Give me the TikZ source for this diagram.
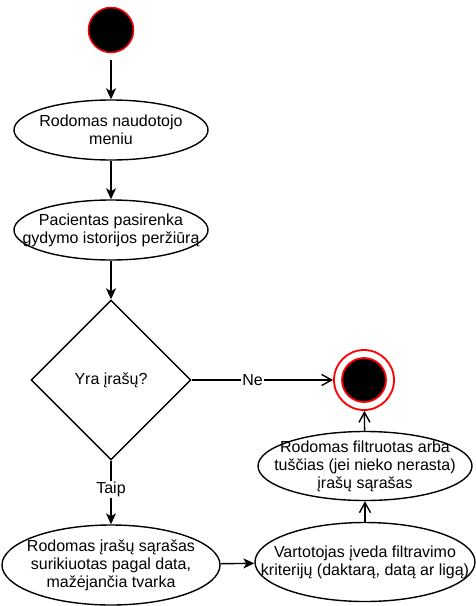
\documentclass[tikz,border=0pt]{standalone}
\usepackage{fontspec}
\setmainfont{Liberation Sans}
\usepackage{tikz}
\usetikzlibrary{arrows.meta, shapes.geometric}
\definecolor{statered}{RGB}{255,0,0}

\begin{document}
\begin{tikzpicture}[
  x=1pt, y=-1pt,
  every node/.style={font=\fontsize{16}{18}\selectfont},
  flow/.style={line width=1.4pt, -{Stealth[length=11pt, width=10pt, inset=3pt]}},
  flowopen/.style={line width=1.4pt, -{Straight Barb[length=10pt, width=11pt]}},
  act/.style={ellipse, draw, line width=1.4pt, align=center, inner xsep=-60pt, inner ysep=-15pt},
  choice/.style={diamond, draw, line width=1.4pt, minimum width=160pt, minimum height=160pt, inner sep=0pt},
  initst/.style={circle, draw=statered, fill=black, line width=1.5pt, minimum size=45pt, inner sep=0pt},
  finalst/.style={circle, draw=statered, fill=white, line width=1.8pt, minimum size=60pt, inner sep=0pt,
    path picture={\draw[statered, fill=black, line width=1.8pt] (path picture bounding box.center) circle (22pt);}},
  lbl/.style={fill=white, inner sep=1pt}
]
\useasboundingbox (0,0) rectangle (476,606);
% states
\node[initst] (start) at (111,30) {};
\node[finalst] (stop) at (364,380) {};
% actions
\node[act, minimum width=194pt, minimum height=60pt] (menu) at (111,130) {Rodomas naudotojo\\meniu};
\node[act, minimum width=194pt, minimum height=60pt] (choose) at (111,230) {Pacientas pasirenka\\gydymo istorijos peržiūrą};
\node[choice] (has) at (111,380) {Yra įrašų?};
\node[act, minimum width=218pt, minimum height=80pt] (sorted) at (111,565)
  {Rodomas įrašų sąrašas\\surikiuotas pagal data,\\mažėjančia tvarka};
\node[act, minimum width=220pt, minimum height=79pt] (filter) at (365,562)
  {Vartotojas įveda filtravimo\\kriterijų (daktarą, datą ar ligą)};
\node[act, minimum width=214pt, minimum height=69pt] (shown) at (365,466)
  {Rodomas filtruotas arba\\tuščias (jei nieko nerasta)\\įrašų sąrašas};
% flows
\draw[flow, shorten <=7pt] (start) -- (menu);
\draw[flow] (menu) -- (choose);
\draw[flow] (choose) -- (has);
\draw[flowopen] (has) -- node[lbl, pos=0.43] {Ne} (stop);
\draw[flow] (has) -- node[lbl, pos=0.45] {Taip} (sorted);
\draw[flow] (sorted) -- (filter);
\draw[flowopen] (filter) -- (shown);
\draw[flowopen] (shown) -- (stop);
\end{tikzpicture}
\end{document}
